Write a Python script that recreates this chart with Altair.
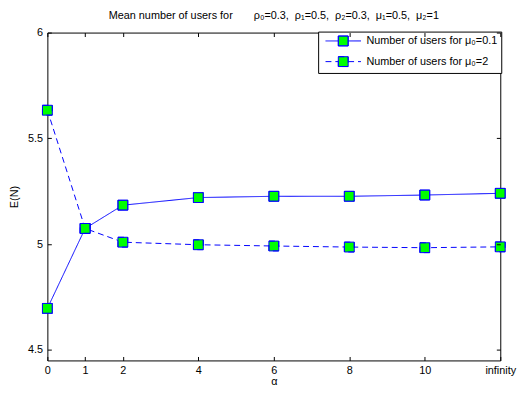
import altair as alt
import pandas as pd

# ---- data ----
alpha_pos = [0, 1, 2, 4, 6, 8, 10, 12]          # 12 stands for "infinity"
alpha_labels = ["0", "1", "2", "4", "6", "8", "10", "infinity"]
series_names = ["Number of users for \u03bc\u2080=0.1", "Number of users for \u03bc\u2080=2"]
users_mu01 = [4.696, 5.074, 5.184, 5.220, 5.226, 5.226, 5.232, 5.240]
users_mu2 = [5.633, 5.074, 5.009, 4.997, 4.991, 4.986, 4.983, 4.987]
y_ticks = [4.5, 5, 5.5, 6]

rows = []
for name, vals in zip(series_names, [users_mu01, users_mu2]):
    for a, v in zip(alpha_pos, vals):
        rows.append({"alpha": a, "EN": v, "series": name})
df = pd.DataFrame(rows)

FONT = "Liberation Sans"
BLUE = "#0000ff"
GREEN = "#00ff00"

label_expr = " : ".join(
    [f"datum.value == {p} ? '{l}'" for p, l in zip(alpha_pos, alpha_labels)] + ["datum.label"]
)

# square whose border stays solid under dashing (half-side sub-paths)
sq_path = ("M-1,-1H1V1H-1Z"
           "M-1,-1H0M0,-1H1M1,-1V0M1,0V1M1,1H0M0,1H-1M-1,1V0M-1,0V-1")
# legend glyph: line through a square (scaled by 5px per unit at symbolSize 100)
L = 3.6
legend_path = (f"M{-L},0H-1M1,0H{L}" + sq_path)

dash_scale = alt.Scale(domain=series_names, range=[[1, 0], [6, 4]])

x_scale = alt.Scale(domain=[0, 12], nice=False, zero=False)
y_scale = alt.Scale(domain=[4.45, 6], nice=False, zero=False)

TS = 4
tick_kw = dict(offset=-TS, tickSize=TS, tickWidth=1, tickColor="black", ticks=True,
               domain=False, grid=False, zindex=1)

lines = alt.Chart(df).mark_line(color=BLUE, strokeWidth=1).encode(
    x=alt.X("alpha:Q", scale=x_scale,
            axis=alt.Axis(orient="bottom", values=alpha_pos, labelExpr=label_expr,
                          title="\u03b1", labelPadding=4, titlePadding=0, labelFlush=False,
                          **tick_kw)),
    y=alt.Y("EN:Q", scale=y_scale,
            axis=alt.Axis(orient="left", values=y_ticks, format=".1~f", title="E(N)",
                          labelPadding=5, titlePadding=8, **tick_kw)),
    strokeDash=alt.StrokeDash(
        "series:N", scale=dash_scale,
        legend=alt.Legend(
            title=None, orient="none", legendX=275, legendY=-1, padding=4,
            symbolType=legend_path, symbolSize=100, symbolStrokeWidth=1,
            symbolFillColor=GREEN, symbolStrokeColor=BLUE, symbolOffset=16,
            labelFont=FONT, labelFontSize=11, labelColor="black", labelOffset=18,
            rowPadding=6, strokeColor="black", fillColor="white", cornerRadius=0,
        ),
    ),
    detail="series:N",
)

points = alt.Chart(df).mark_point(
    shape=sq_path, filled=True, fill=GREEN, stroke=BLUE, strokeWidth=1, size=100, opacity=1
).encode(
    x=alt.X("alpha:Q", scale=x_scale,
            axis=alt.Axis(orient="top", values=alpha_pos, labels=False, title=None, **tick_kw)),
    y=alt.Y("EN:Q", scale=y_scale,
            axis=alt.Axis(orient="right", values=y_ticks, labels=False, title=None, **tick_kw)),
    strokeDash=alt.StrokeDash("series:N", scale=dash_scale, legend=None),
)

NB = "\u00a0"
title_text = ("Mean number of users for" + NB * 7 +
              f"\u03c1\u2080=0.3,{NB}{NB}\u03c1\u2081=0.5,{NB}{NB}"
              f"\u03c1\u2082=0.3,{NB}{NB}\u03bc\u2081=0.5,{NB}{NB}\u03bc\u2082=1")

chart = alt.layer(lines, points).resolve_legend(
    strokeDash="independent"
).resolve_axis(x="independent", y="independent").properties(
    width=460, height=333,
    title=alt.TitleParams(title_text, font=FONT, fontSize=11, fontWeight="normal",
                          color="black", offset=6, anchor="middle"),
    autosize=alt.AutoSizeParams(type="none"),
    padding={"left": 40, "top": 22, "right": 18, "bottom": 23},
).configure(background="white").configure_view(
    stroke="black", strokeWidth=1
).configure_axis(
    labelFont=FONT, labelFontSize=11, labelColor="black",
    titleFont=FONT, titleFontSize=11, titleFontWeight="normal", titleColor="black",
)

chart.save("out.html", embed_options={"renderer": "svg", "actions": False})
